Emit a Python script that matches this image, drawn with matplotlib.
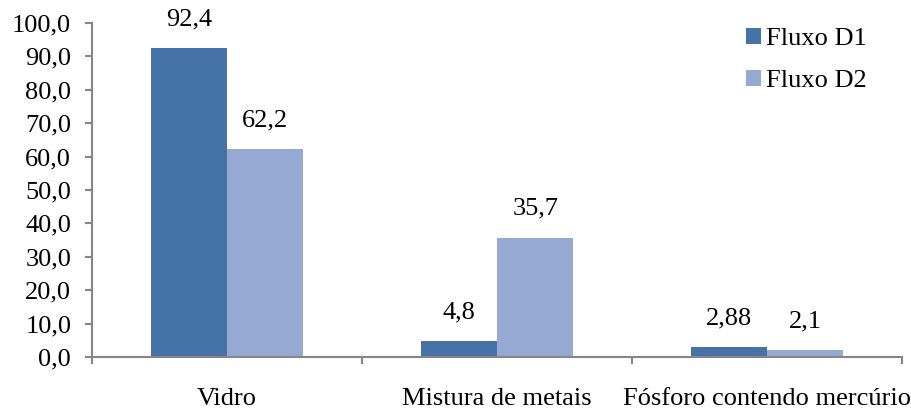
import numpy as np
import matplotlib.pyplot as plt
from matplotlib.ticker import FuncFormatter

categorias = ['Vidro', 'Mistura de metais', 'Fósforo contendo mercúrio']
fluxo_d1 = [92.4, 4.8, 2.88]
fluxo_d2 = [62.2, 35.7, 2.1]
rotulos_d1 = ['92,4', '4,8', '2,88']
rotulos_d2 = ['62,2', '35,7', '2,1']

plt.rcParams['font.family'] = ['Liberation Serif', 'DejaVu Serif']
plt.rcParams['font.size'] = 19

cor_d1 = '#4673A7'
cor_d2 = '#95A9D2'
cinza = '#868686'

fig = plt.figure(figsize=(9.12, 4.09), dpi=100)
ax = fig.add_axes([0.1009, 0.127, 0.8881, 0.817])

x = np.arange(len(categorias))
larg = 0.283
b1 = ax.bar(x - larg/2, fluxo_d1, larg, color=cor_d1, label='Fluxo D1')
b2 = ax.bar(x + larg/2, fluxo_d2, larg, color=cor_d2, label='Fluxo D2')

for barras, rot in ((b1, rotulos_d1), (b2, rotulos_d2)):
    for b, r in zip(barras, rot):
        ax.annotate(r, (b.get_x() + b.get_width()/2, b.get_height()),
                    xytext=(0, 13), textcoords='offset points',
                    ha='center', va='bottom')

ax.set_xlim(-0.5, len(categorias) - 0.5)
ax.set_ylim(0, 100)
ax.set_yticks(np.arange(0, 101, 10))
ax.yaxis.set_major_formatter(FuncFormatter(lambda v, p: f'{v:.1f}'.replace('.', ',')))

# ticks do eixo x nas divisas entre categorias, rótulos no centro
ax.set_xticks(np.arange(-0.5, len(categorias), 1.0))
ax.set_xticklabels([])
ax.set_xticks(x, minor=True)
ax.set_xticklabels(categorias, minor=True)
ax.tick_params(axis='x', which='minor', length=0, pad=22)
ax.tick_params(axis='x', which='major', length=5, width=1.5, color=cinza, direction='out')
ax.tick_params(axis='y', length=5, width=1.5, color=cinza, direction='out', pad=10)

for s in ('top', 'right'):
    ax.spines[s].set_visible(False)
ax.spines['left'].set_color(cinza)
ax.spines['bottom'].set_color(cinza)
ax.spines['left'].set_linewidth(1.5)
ax.spines['bottom'].set_linewidth(1.5)

ax.legend(loc='upper left', bbox_to_anchor=(746/912, 1 - 28/409),
          bbox_transform=fig.transFigure, frameon=False, borderpad=0,
          borderaxespad=0, handlelength=0.55, handleheight=0.55,
          handletextpad=0.2, labelspacing=0.75)

fig.savefig('out.png', dpi=100)
